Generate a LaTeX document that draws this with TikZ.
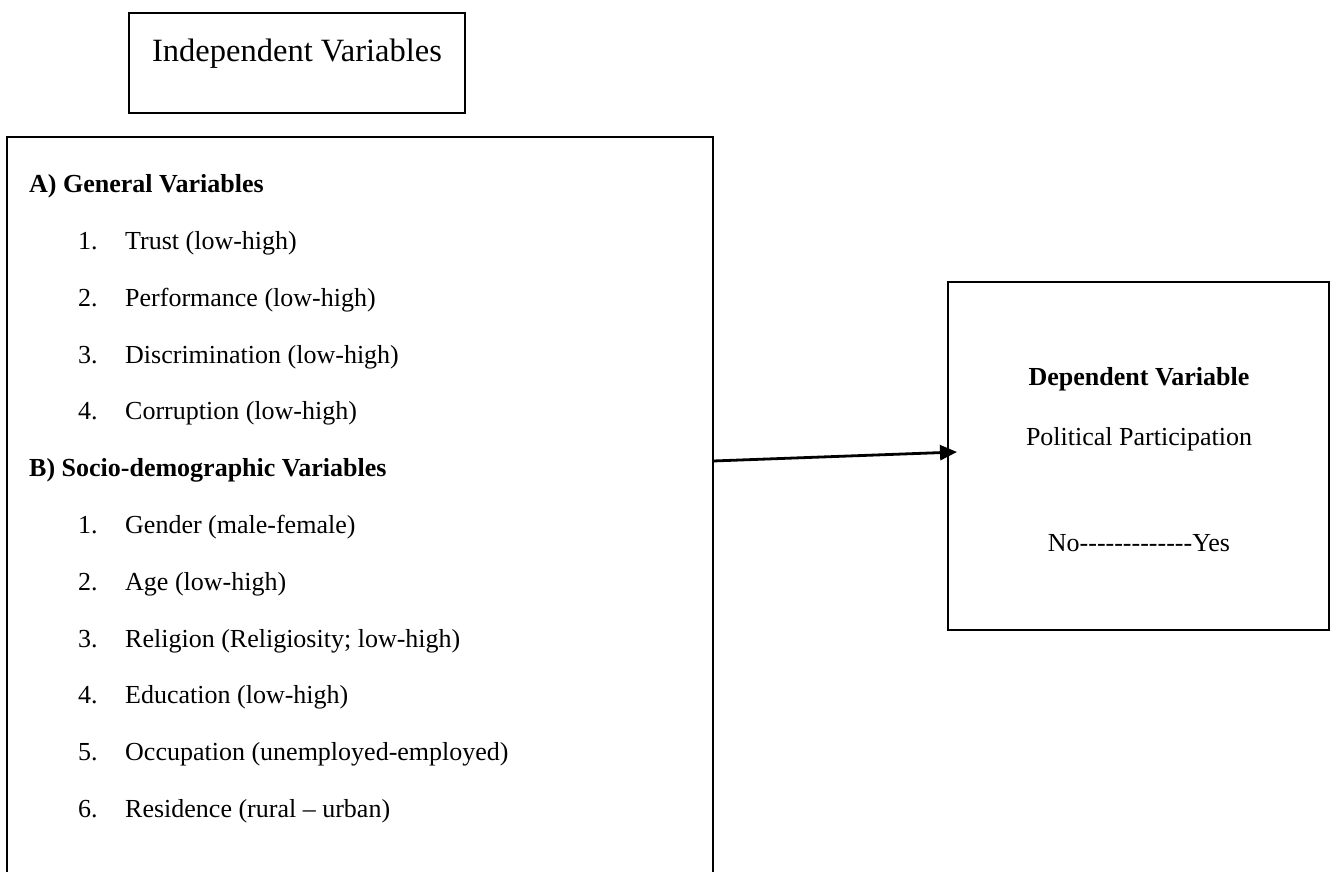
\documentclass[tikz,border=0pt]{standalone}
\usepackage{fontspec}
\setmainfont{Liberation Serif}
\usetikzlibrary{arrows.meta}
\newcommand\hy{-\kern0pt}
\begin{document}
\begin{tikzpicture}[x=1pt,y=-1pt,
  boxline/.style={draw=black, line width=2.6pt},
  body/.style={font=\fontsize{26}{30}\selectfont, inner sep=0pt, anchor=base west},
  bodyc/.style={font=\fontsize{26}{30}\selectfont, inner sep=0pt, anchor=base},
  head/.style={font=\fontsize{26}{30}\selectfont\bfseries, inner sep=0pt, anchor=base west},
]
\useasboundingbox (0,0) rectangle (1336,872);
\clip (0,0) rectangle (1336,872);
% top box
\draw[boxline] (129,13) rectangle (465,113);
\node[font=\fontsize{32.5}{36}\selectfont, inner sep=0pt, anchor=base] (ivtitle) at (297,62) {Independent Variables};
% big box
\draw[boxline] (7,137) rectangle (713,900);
\node[head] (ha) at (29,192) {A) General Variables};
\foreach \n/\t/\y in {1/Trust (low-high)/249, 2/Performance (low-high)/306, 3/Discrimination (low-high)/363, 4/Corruption (low-high)/419}{
  \node[body] (na\n) at (78,\y) {\n.};
  \node[body] (ta\n) at (125,\y) {\t};
}
\node[head] (hb) at (29,476) {B) Socio-demographic Variables};
\foreach \n/\t/\y in {1/Gender (male-female)/533, 2/Age (low-high)/590, 3/Religion (Religiosity; low-high)/647, 4/Education (low-high)/703, 5/Occupation (unemployed-employed)/760, 6/Residence (rural – urban)/817}{
  \node[body] (nb\n) at (78,\y) {\n.};
  \node[body] (tb\n) at (125,\y) {\t};
}
% right box
\draw[boxline] (948,282) rectangle (1329,630);
\node[bodyc, font=\fontsize{26}{30}\selectfont\bfseries] (dvh) at (1139,385) {Dependent Variable};
\node[bodyc] (dvp) at (1139,445) {Political Participation};
\node[bodyc] (dvs) at (1139,551) {No\hy\hy\hy\hy\hy\hy\hy\hy\hy\hy\hy\hy-Yes};
% arrow
\coordinate (astart) at (713,461);
\coordinate (aend) at (957,452);
\draw[line width=2.8pt, -{Triangle[length=17pt,width=15pt]}] (astart) -- (aend);
\end{tikzpicture}
\end{document}
